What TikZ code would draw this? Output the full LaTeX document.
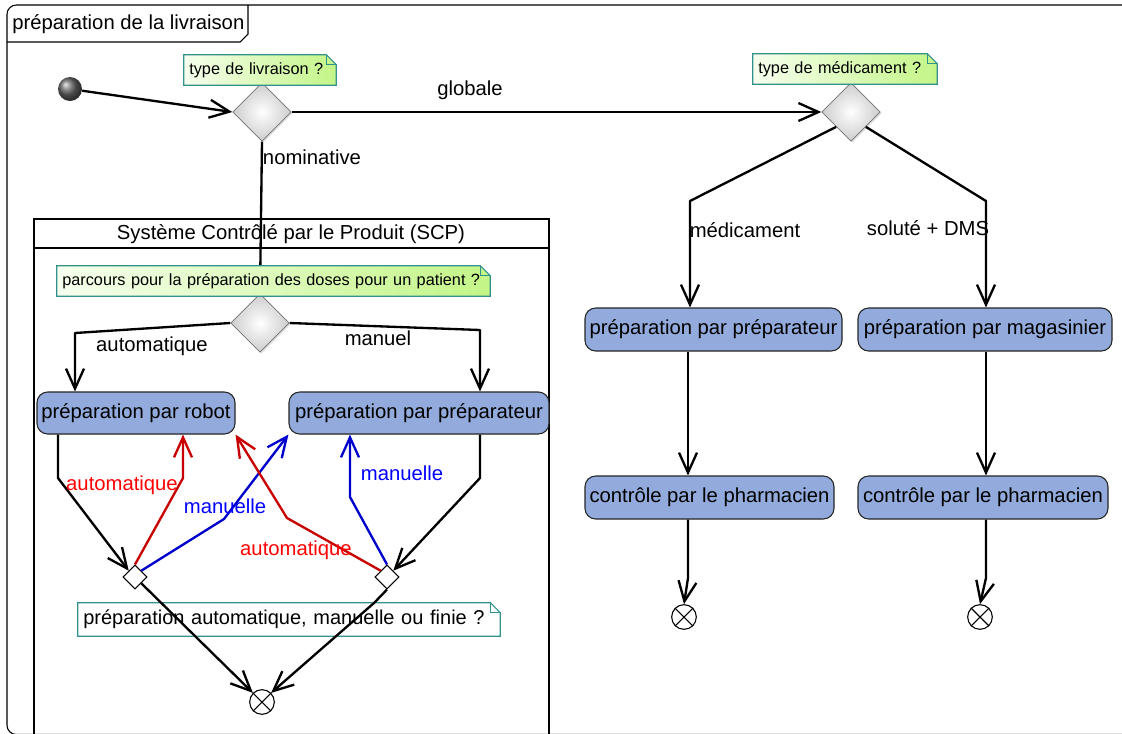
\documentclass[tikz,border=0pt]{standalone}
\usepackage{fontspec}
\setmainfont{Liberation Sans}
\usetikzlibrary{arrows.meta,shapes.geometric,calc,shadows}
\pgfdeclarelayer{bg}
\pgfdeclarelayer{notebg}
\pgfdeclarelayer{notefg}
\pgfsetlayers{bg,main,notebg,notefg}
\definecolor{actfill}{RGB}{146,171,220}
\definecolor{notebord}{RGB}{50,145,140}
\definecolor{noteL}{RGB}{246,255,238}
\definecolor{noteR}{RGB}{195,245,135}
\definecolor{linered}{RGB}{200,0,0}
\definecolor{lineblue}{RGB}{0,0,205}
\definecolor{textred}{RGB}{255,0,0}
\definecolor{textblue}{RGB}{0,0,255}
\newcommand\notebg[1]{%
  \begin{pgfonlayer}{notebg}
  \path[notefill] (#1.north west) -- ($(#1.north east)+(-10,0)$) -- ($(#1.north east)+(0,10)$) -- (#1.south east) -- (#1.south west) -- cycle;
  \draw[notefold] ($(#1.north east)+(-10,0)$) -- ($(#1.north east)+(-10,10)$) -- ($(#1.north east)+(0,10)$);
  \end{pgfonlayer}}
\begin{document}
\begin{tikzpicture}[x=0.75pt,y=-0.75pt,
  every node/.style={font=\fontsize{15.2}{18}\selectfont},
  conn/.style={line width=1.75pt, line join=round},
  arr/.style={conn,-{Straight Barb[length=15pt,width=13.5pt]}},
  act/.style={draw=black!85, line width=0.8pt, fill=actfill, rounded corners=8pt, inner sep=1pt, minimum height=31.5pt},
  dec/.style={diamond, aspect=1, inner sep=0pt, minimum width=44pt, minimum height=44pt, draw=black!55, line width=0.6pt, shading=radial, inner color=white, outer color=black!20, drop shadow={shadow xshift=1pt,shadow yshift=-1pt,opacity=0.25}},
  merge/.style={diamond, aspect=1, inner sep=0pt, minimum width=18pt, minimum height=18pt, draw=black, line width=0.8pt, fill=white},
  final/.style={circle, draw=black, line width=0.8pt, fill=white, minimum size=18.5pt, inner sep=0pt},
  notetxt/.style={font=\fontsize{12.2}{14}\selectfont, align=left, inner xsep=4pt, inner ysep=0pt, minimum height=22.5pt},
  notefill/.style={draw=notebord, line width=0.8pt, left color=noteL, right color=noteR},
  notefold/.style={draw=notebord, line width=0.8pt},
  lbl/.style={inner sep=0pt},
  thin frame/.style={line width=0.8pt}
]
\useasboundingbox (0,0) rectangle (1122,733);
\begin{pgfonlayer}{bg}
\fill[white] (0,0) rectangle (1122,733);
\end{pgfonlayer}

% outer frame
\draw[thin frame, rounded corners=7pt] (1135,5) -- (7,5) -- (7,734.5) -- (1135,734.5);
\draw[thin frame] (7,42) -- (240,42) -- (248,34) -- (248,5);
\node[anchor=west, inner sep=0pt] (ftitle) at (12,24) {préparation de la livraison};

% SCP partition
\draw[thin frame] (34,745) -- (34,219) -- (549,219) -- (549,745);
\draw[thin frame] (34,248) -- (549,248);
\node (scpt) at (291,234) {Système Contrôlé par le Produit (SCP)};

% nodes
\node[circle, inner sep=0pt, minimum size=18pt, ball color=black!60] (init) at (70,89) {};
\node[dec] (d1) at (262,112) {};
\node[dec] (d2) at (851,112) {};
\node[dec] (d3) at (260,323) {};
\node[act, minimum width=148.5pt] (robot) at (136,413) {préparation par robot};
\node[act, minimum width=195pt] (prep1) at (419,413) {préparation par préparateur};
\node[merge] (m1) at (135,577) {};
\node[merge] (m2) at (387,577) {};
\node[final] (f1) at (262,702) {};
\node[act, minimum width=192.75pt, minimum height=32.25pt] (prep2) at (713.5,329.5) {préparation par préparateur};
\node[act, minimum width=190.5pt, minimum height=32.25pt] (mag) at (985,329.5) {préparation par magasinier};
\node[act, minimum width=186.75pt, minimum height=32.25pt] (ctrl1) at (709.5,497.5) {contrôle par le pharmacien};
\node[act, minimum width=187.5pt, minimum height=32.25pt] (ctrl2) at (983,497.5) {contrôle par le pharmacien};
\node[final] (f2) at (684,617) {};
\node[final] (f3) at (980,617) {};
\foreach \f in {f1,f2,f3} \draw[line width=0.8pt] (\f.45) -- (\f.225) (\f.135) -- (\f.315);

% connectors, top
\draw[arr] (init) -- (d1.west);
\draw[arr] (d1.east) -- (d2.west);
\node[lbl] (lglob) at (470,90) {globale};
\draw[arr] (d1.south) -- (d3.north);
\node[lbl] (lnom) at (312,157) {nominative};

% SCP connectors
\draw[arr] (d3.west) -- (75,333) -- (75,0 |- robot.north);
\node[lbl] (lauto1) at (152,346) {automatique};
\draw[arr] (d3.east) -- (480,330) -- (480,0 |- prep1.north);
\node[lbl] (lman1) at (378,338) {manuel};

\draw[arr] (58,0 |- robot.south) -- (58,478) -- (m1.north west);
\draw[arr] (480,0 |- prep1.south) -- (480,478) -- (m2.north east);
\draw[arr, draw=linered] (m1.north) -- (183,478) -- (183,0 |- robot.south);
\draw[arr, draw=lineblue] (m1.north east) -- (224,519) -- (prep1.south west);
\draw[arr, draw=linered] (m2.north west) -- (287,518) -- (robot.south east);
\draw[arr, draw=lineblue] (m2.north) -- (350,497) -- (350,0 |- prep1.south);
\draw[arr] (m1.south east) -- (f1.north west);
\draw[arr] (m2.south) -- (374,603) -- (f1.north east);

\node[lbl, text=textred] (la2) at (122,485) {automatique};
\node[lbl, text=textblue] (lm2) at (225,506) {manuelle};
\node[lbl, text=textred] (la3) at (296,550) {automatique};
\node[lbl, text=textblue] (lm3) at (402,473) {manuelle};

% right branch
\draw[arr] (d2.south west) -- (690,201) -- (690,0 |- prep2.north);
\draw[arr] (d2.south east) -- (986,201) -- (986,0 |- mag.north);
\node[lbl] (lmed) at (745,230) {médicament};
\node[lbl] (lsol) at (928,228) {soluté + DMS};
\draw[arr] (688,0 |- prep2.south) -- (688,0 |- ctrl1.north);
\draw[arr] (986,0 |- mag.south) -- (986,0 |- ctrl2.north);
\draw[arr] (688,0 |- ctrl1.south) -- (688,578) -- (f2.north);
\draw[arr] (986,0 |- ctrl2.south) -- (986,578) -- (f3.north);

% notes
\begin{pgfonlayer}{notefg}
\node[notetxt, text width=106pt] (n1) at (260,70) {type de livraison ?};
\node[notetxt, text width=130pt] (n2) at (845,69) {type de médicament ?};
\node[notetxt, text width=316.75pt] (n3) at (273.5,281) {parcours pour la préparation des doses pour un patient ?};
\end{pgfonlayer}
\notebg{n1}
\notebg{n2}
\notebg{n3}
\begin{pgfonlayer}{bg}
\node[notetxt, font=\fontsize{15}{18}\selectfont, text width=308.5pt, minimum height=24.75pt] (n4) at (289,619.5) {préparation automatique, manuelle ou finie ?};
\draw[notefold] (n4.north west) -- ($(n4.north east)+(-10,0)$) -- ($(n4.north east)+(0,10)$) -- (n4.south east) -- (n4.south west) -- cycle;
\draw[notefold] ($(n4.north east)+(-10,0)$) -- ($(n4.north east)+(-10,10)$) -- ($(n4.north east)+(0,10)$);
\end{pgfonlayer}
\end{tikzpicture}
\end{document}
